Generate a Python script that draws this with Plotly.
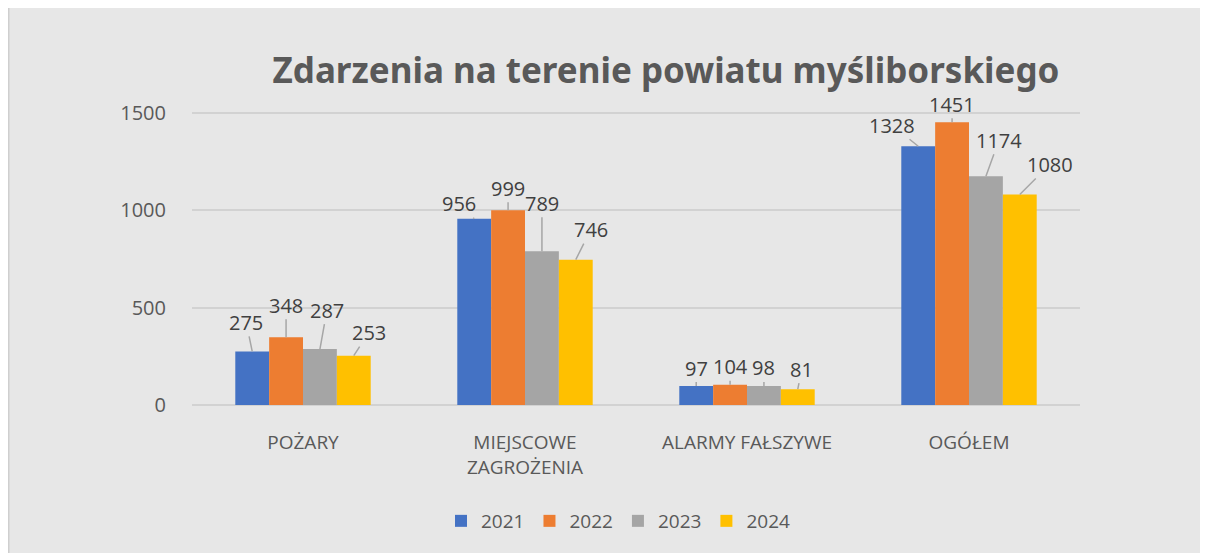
import plotly.graph_objects as go

categories = ["POŻARY", "MIEJSCOWE<br>ZAGROŻENIA", "ALARMY FAŁSZYWE", "OGÓŁEM"]
years = ["2021", "2022", "2023", "2024"]
v2021 = [275, 956, 97, 1328]
v2022 = [348, 999, 104, 1451]
v2023 = [287, 789, 98, 1174]
v2024 = [253, 746, 81, 1080]
series = [v2021, v2022, v2023, v2024]
colors = ["#4472C4", "#ED7D31", "#A5A5A5", "#FFC000"]
yticks = [0, 500, 1000, 1500]

# label offsets (pixels) from each bar top, per series, per category (style only)
label_dx = [[-6, -15, 0, -26], [0, 0, 0, 0], [7, 0, 0, 13], [15, 15, 4, 30]]
label_dy = [[-29, -15, -18, -21], [-32, -22, -18, -18], [-39, -48, -18, -36], [-23, -30, -20, -30]]

W, H = 1200, 545
L, R, T, B = 184, 128, 95, 148
pw, ph = W - L - R, H - T - B
BARGAP = 0.39
nser = len(series)
bw = (1 - BARGAP) / nser

fig = go.Figure()
annotations = []
for i, (name, vals, col) in enumerate(zip(years, series, colors)):
    fig.add_trace(go.Bar(
        x=categories, y=vals, name=name, marker=dict(color=col, line=dict(width=0)),
        hoverinfo="x+y+name",
    ))
    for j, v in enumerate(vals):
        annotations.append(dict(
            x=j + (i - (nser - 1) / 2) * bw, y=v, xref="x", yref="y",
            text=str(v), showarrow=True, arrowhead=0, arrowwidth=1.5,
            arrowcolor="#a6a6a6", standoff=0, startstandoff=0,
            ax=label_dx[i][j], ay=label_dy[i][j], axref="pixel", ayref="pixel",
            font=dict(size=20, color="#404040", family="Open Sans"),
            borderpad=0,
        ))

def px_x(p):
    return (p - L) / pw

def px_y(p):
    return (H - B - p) / ph

fig.update_layout(
    width=W, height=H,
    margin=dict(l=L, r=R, t=T, b=B),
    paper_bgcolor="#e7e7e7", plot_bgcolor="#e7e7e7",
    barmode="group", bargap=BARGAP, bargroupgap=0,
    title=dict(text="<b>Zdarzenia na terenie powiatu myśliborskiego</b>",
               x=px_x(658), xref="paper", xanchor="center",
               y=1 - 63 / H, yanchor="middle",
               font=dict(size=35, color="#595959", family="Noto Sans")),
    font=dict(family="Open Sans", color="#595959", size=19),
    showlegend=True,
    legend=dict(orientation="h", x=px_x(610), xanchor="center", y=px_y(513), yanchor="middle",
                font=dict(size=19, color="#595959"), bgcolor="rgba(0,0,0,0)",
                itemsizing="constant", traceorder="normal"),
    xaxis=dict(showgrid=False, showline=False, ticks="", tickfont=dict(size=19, color="#595959"),
               ticklabelstandoff=24),
    yaxis=dict(range=[0, 1550], tickvals=yticks, showgrid=True, gridcolor="#d2d2d2", gridwidth=1.5,
               zeroline=True, zerolinecolor="#d2d2d2", zerolinewidth=1.5,
               tickfont=dict(size=20, color="#595959"), ticklabelstandoff=25, showline=False),
    annotations=annotations,
    shapes=[
        dict(type="line", xref="paper", yref="paper", x0=px_x(0.75), x1=px_x(0.75),
             y0=px_y(H), y1=px_y(0), line=dict(color="#cfcfcf", width=1.5), layer="above"),
    ],
)

fig.write_html("out.html")
